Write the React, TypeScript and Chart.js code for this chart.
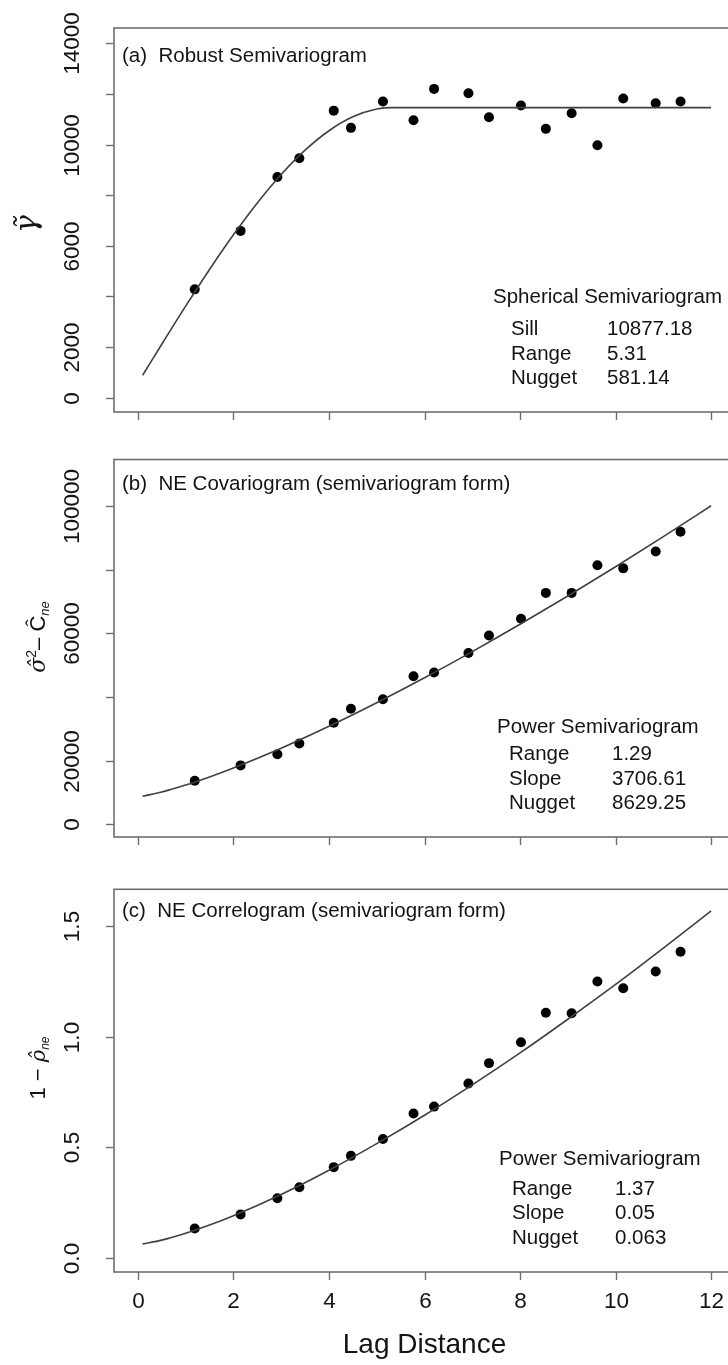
import React, { useEffect, useRef } from "react";
import { Chart, registerables } from "chart.js";

Chart.register(...registerables);

// ---------- data ----------
const lagDistance = [1.19, 2.15, 2.92, 3.38, 4.1, 4.46, 5.13, 5.77, 6.2, 6.92, 7.35, 8.02, 8.54, 9.08, 9.62, 10.16, 10.84, 11.36];
const robustGamma = [4280, 6590, 8720, 9460, 11340, 10660, 11700, 10960, 12200, 12030, 11080, 11540, 10620, 11240, 9970, 11820, 11630, 11700];
const neCovariogram = [13700, 18500, 22000, 25400, 31900, 36300, 39300, 46500, 47700, 53800, 59300, 64600, 72700, 72700, 81400, 80400, 85700, 91900];
const neCorrelogram = [0.134, 0.198, 0.271, 0.32, 0.411, 0.462, 0.538, 0.653, 0.684, 0.788, 0.88, 0.974, 1.107, 1.105, 1.248, 1.218, 1.293, 1.382];

const sphericalFitLag = [0.1, 0.5, 1, 1.5, 2, 2.5, 3, 3.5, 4, 4.5, 5, 5.31, 8, 12];
const sphericalFit = [888, 2113, 3617, 5067, 6436, 7695, 8818, 9778, 10547, 11098, 11404, 11458, 11458, 11458];
const powerFitLag = [0.1, 0.5, 1, 1.5, 2, 3, 4, 5, 6, 7, 8, 9, 10, 11, 12];
const covariogramFit = [8819, 10145, 12336, 14883, 17693, 23920, 30793, 38187, 46021, 54254, 62828, 71716, 80900, 90364, 100080];
const correlogramFit = [0.065, 0.082, 0.113, 0.15, 0.192, 0.288, 0.397, 0.517, 0.645, 0.782, 0.926, 1.078, 1.235, 1.399, 1.567];

const xTicks = [0, 2, 4, 6, 8, 10, 12];
const xTickLabels = ["0", "2", "4", "6", "8", "10", "12"];
const yTicksA = [0, 2000, 4000, 6000, 8000, 10000, 12000, 14000];
const yTickLabelsA = ["0", "2000", "", "6000", "", "10000", "", "14000"];
const yTicksB = [0, 20000, 40000, 60000, 80000, 100000];
const yTickLabelsB = ["0", "20000", "", "60000", "", "100000"];
const yTicksC = [0, 0.5, 1, 1.5];
const yTickLabelsC = ["0.0", "0.5", "1.0", "1.5"];

const rowsA = [["Sill", "10877.18"], ["Range", "5.31"], ["Nugget", "581.14"]];
const rowsB = [["Range", "1.29"], ["Slope", "3706.61"], ["Nugget", "8629.25"]];
const rowsC = [["Range", "1.37"], ["Slope", "0.05"], ["Nugget", "0.063"]];

// ---------- layout ----------
const SANS = '"Liberation Sans", Arial, sans-serif';
const TEXT = "#141414";
const BOX = "#6e6e6e";

type Part = { t: string; size: number; italic?: boolean; dy?: number; family?: string };

type Panel = {
  key: string;
  top: number;
  height: number;
  padTop: number;
  padBottom: number;
  yMin: number;
  yMax: number;
  points: number[];
  fitX: number[];
  fitY: number[];
  yTicks: number[];
  yLabels: string[];
  title: string;
  titleY: number;
  header: string;
  headerX: number;
  headerY: number;
  rows: string[][];
  rowYs: number[];
  nameX: number;
  valueX: number;
  yTitle: Part[];
  yTitleX: number;
  yTitleY: number;
  xLabels: boolean;
};

const panels: Panel[] = [
  {
    key: "a", top: 0, height: 440, padTop: 28, padBottom: 28, yMin: -565, yMax: 14605,
    points: robustGamma, fitX: sphericalFitLag, fitY: sphericalFit,
    yTicks: yTicksA, yLabels: yTickLabelsA,
    title: "(a)  Robust Semivariogram", titleY: 55,
    header: "Spherical Semivariogram", headerX: 493, headerY: 296,
    rows: rowsA, rowYs: [328, 353, 377], nameX: 511, valueX: 607,
    yTitle: [{ t: "\u03B3\u0303", size: 30, italic: true, family: '"DejaVu Serif", serif' }],
    yTitleX: 36, yTitleY: 224, xLabels: false,
  },
  {
    key: "b", top: 440, height: 420, padTop: 19.5, padBottom: 23, yMin: -3990, yMax: 114600,
    points: neCovariogram, fitX: powerFitLag, fitY: covariogramFit,
    yTicks: yTicksB, yLabels: yTickLabelsB,
    title: "(b)  NE Covariogram (semivariogram form)", titleY: 483,
    header: "Power Semivariogram", headerX: 497, headerY: 726,
    rows: rowsB, rowYs: [753, 778, 802], nameX: 509, valueX: 612,
    yTitle: [
      { t: "\u03C3\u0302", size: 22, italic: true, family: '"DejaVu Serif", serif' },
      { t: "2", size: 14, dy: -9 },
      { t: "\u2013 ", size: 22 },
      { t: "C\u0302", size: 22 },
      { t: "ne", size: 13, italic: true, dy: 4 },
    ],
    yTitleX: 45, yTitleY: 637, xLabels: false,
  },
  {
    key: "c", top: 860, height: 505, padTop: 29.3, padBottom: 93, yMin: -0.0618, yMax: 1.664,
    points: neCorrelogram, fitX: powerFitLag, fitY: correlogramFit,
    yTicks: yTicksC, yLabels: yTickLabelsC,
    title: "(c)  NE Correlogram (semivariogram form)", titleY: 910,
    header: "Power Semivariogram", headerX: 499, headerY: 1158,
    rows: rowsC, rowYs: [1188, 1212, 1237], nameX: 512, valueX: 615,
    yTitle: [
      { t: "1 \u2212 ", size: 22 },
      { t: "\u03C1\u0302", size: 21, italic: true, family: '"DejaVu Serif", serif' },
      { t: "ne", size: 12, italic: true, dy: 4 },
    ],
    yTitleX: 45, yTitleY: 1068, xLabels: true,
  },
];

function drawRotatedParts(ctx: CanvasRenderingContext2D, parts: Part[], baseX: number, centerY: number) {
  ctx.save();
  ctx.translate(baseX, centerY);
  ctx.rotate(-Math.PI / 2);
  ctx.textBaseline = "alphabetic";
  ctx.textAlign = "left";
  ctx.fillStyle = TEXT;
  const fonts = parts.map((p) => `${p.italic ? "italic " : ""}${p.size}px ${p.family || SANS}`);
  let total = 0;
  const widths = parts.map((p, i) => {
    ctx.font = fonts[i];
    const w = ctx.measureText(p.t).width;
    total += w;
    return w;
  });
  let x = -total / 2;
  parts.forEach((p, i) => {
    ctx.font = fonts[i];
    ctx.fillText(p.t, x, p.dy || 0);
    x += widths[i];
  });
  ctx.restore();
}

function makeDecor(p: Panel) {
  return {
    id: "decor_" + p.key,
    afterDraw(chart: any) {
      const { ctx, chartArea: a, scales } = chart;
      const xs = scales.x;
      const ys = scales.y;
      const off = p.top;
      ctx.save();
      // box
      ctx.strokeStyle = BOX;
      ctx.lineWidth = 1.6;
      ctx.strokeRect(a.left, a.top, a.right - a.left, a.bottom - a.top);
      // y ticks
      ctx.lineWidth = 1.4;
      p.yTicks.forEach((v, i) => {
        const y = Math.round(ys.getPixelForValue(v)) + 0.5;
        ctx.beginPath();
        ctx.moveTo(a.left - 8, y);
        ctx.lineTo(a.left, y);
        ctx.stroke();
        const lab = p.yLabels[i];
        if (lab) {
          ctx.save();
          ctx.translate(79, y);
          ctx.rotate(-Math.PI / 2);
          ctx.fillStyle = TEXT;
          ctx.font = `22.5px ${SANS}`;
          ctx.textAlign = "center";
          ctx.textBaseline = "alphabetic";
          ctx.fillText(lab, 0, 0);
          ctx.restore();
        }
      });
      // x ticks
      xTicks.forEach((v, i) => {
        const x = Math.round(xs.getPixelForValue(v)) + 0.5;
        ctx.beginPath();
        ctx.moveTo(x, a.bottom);
        ctx.lineTo(x, a.bottom + 8);
        ctx.stroke();
        if (p.xLabels) {
          ctx.fillStyle = TEXT;
          ctx.font = `22.5px ${SANS}`;
          ctx.textAlign = "center";
          ctx.textBaseline = "alphabetic";
          ctx.fillText(xTickLabels[i], x, 1300 - off + 8);
        }
      });
      ctx.fillStyle = TEXT;
      ctx.textAlign = "left";
      ctx.textBaseline = "alphabetic";
      // title
      ctx.font = `20.5px ${SANS}`;
      ctx.fillText(p.title, 122, p.titleY - off + 7.3);
      // annotation
      ctx.fillText(p.header, p.headerX, p.headerY - off + 7.3);
      p.rows.forEach((r, i) => {
        ctx.fillText(r[0], p.nameX, p.rowYs[i] - off + 7.3);
        ctx.fillText(r[1], p.valueX, p.rowYs[i] - off + 7.3);
      });
      if (p.xLabels) {
        ctx.font = `28px ${SANS}`;
        ctx.textAlign = "center";
        ctx.fillText("Lag Distance", (a.left + a.right) / 2, 1343 - off + 10);
      }
      ctx.restore();
      drawRotatedParts(ctx, p.yTitle, p.yTitleX, p.yTitleY - off);
    },
  };
}

const CANVAS_W = 740;

function PanelChart({ p }: { p: Panel }) {
  const ref = useRef<HTMLCanvasElement | null>(null);
  useEffect(() => {
    if (!ref.current) return;
    const chart = new Chart(ref.current, {
      type: "scatter",
      data: {
        datasets: [
          {
            label: "fit",
            data: p.fitX.map((x, i) => ({ x, y: p.fitY[i] })),
            showLine: true,
            borderColor: "#404040",
            borderWidth: 1.6,
            pointRadius: 0,
            cubicInterpolationMode: "monotone",
            fill: false,
          } as any,
          {
            label: "observed",
            data: lagDistance.map((x, i) => ({ x, y: p.points[i] })),
            showLine: false,
            pointRadius: 5,
            pointBackgroundColor: "#000",
            pointBorderColor: "#000",
            pointBorderWidth: 0,
          } as any,
        ],
      },
      options: {
        responsive: false,
        maintainAspectRatio: false,
        animation: false,
        events: [],
        layout: { padding: { left: 114, right: CANVAS_W - 735, top: p.padTop, bottom: p.padBottom } },
        plugins: { legend: { display: false }, tooltip: { enabled: false }, title: { display: false } },
        scales: {
          x: { type: "linear", display: false, min: -0.5, max: 12.5 },
          y: { type: "linear", display: false, min: p.yMin, max: p.yMax },
        },
      },
      plugins: [makeDecor(p)],
    });
    return () => chart.destroy();
  }, [p]);
  return (
    <canvas
      ref={ref}
      width={CANVAS_W}
      height={p.height}
      style={{ position: "absolute", left: 0, top: p.top, width: CANVAS_W, height: p.height }}
    />
  );
}

export default function App() {
  return (
    <div
      style={{
        position: "absolute",
        left: 0,
        top: 0,
        width: 728,
        height: 1365,
        overflow: "hidden",
        background: "#fff",
      }}
    >
      {panels.map((p) => (
        <PanelChart key={p.key} p={p} />
      ))}
    </div>
  );
}
